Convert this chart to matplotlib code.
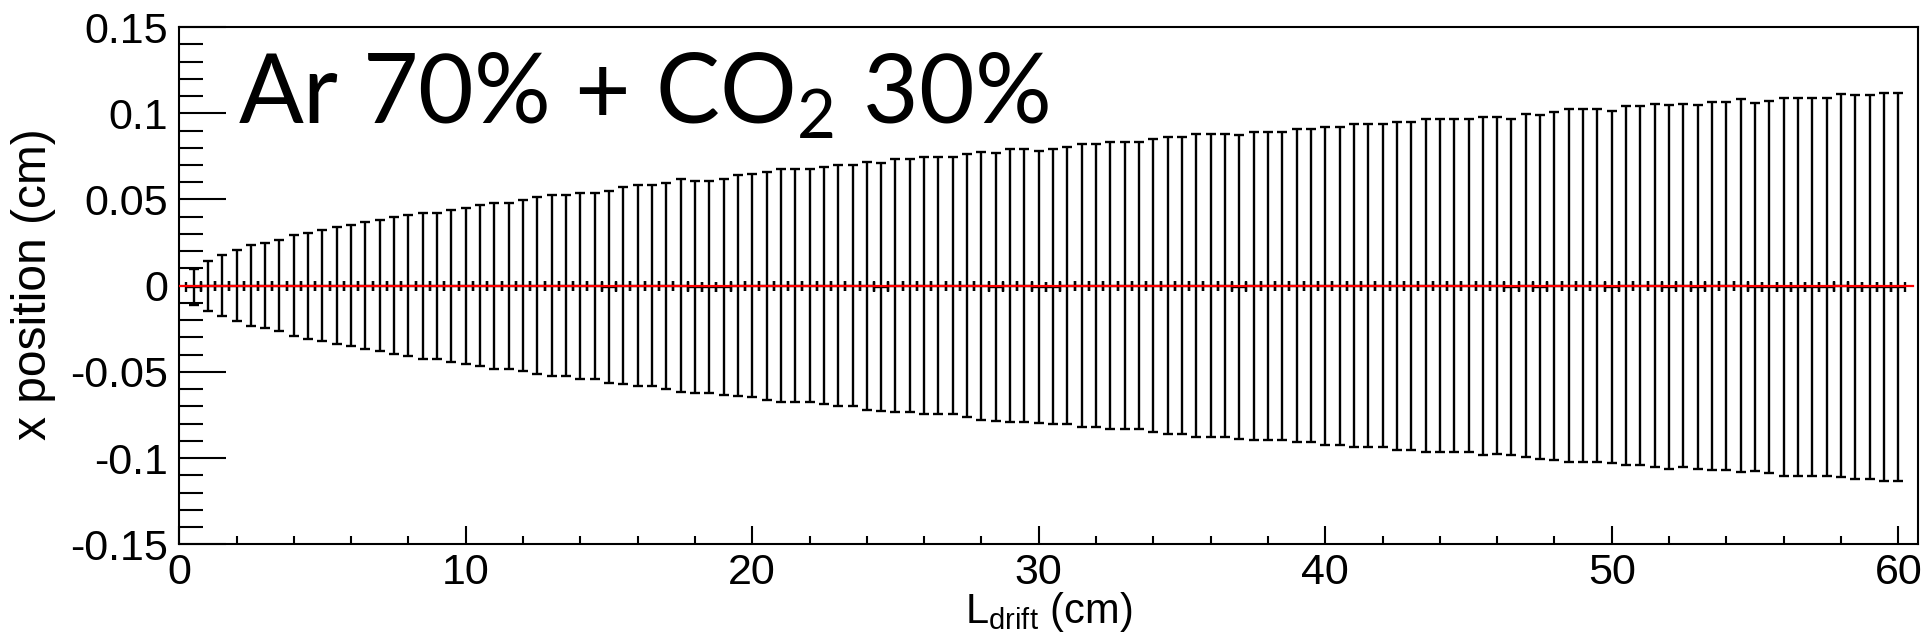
import matplotlib
matplotlib.use("Agg")
import matplotlib.pyplot as plt
from matplotlib.ticker import MultipleLocator, FuncFormatter

plt.rcParams['font.family'] = ['Liberation Sans', 'DejaVu Sans']
plt.rcParams['axes.unicode_minus'] = False

# drift distance (cm), one point per 0.5 cm bin
l_drift = [
    0.5, 1.0, 1.5, 2.0, 2.5, 3.0, 3.5, 4.0, 4.5, 5.0,
    5.5, 6.0, 6.5, 7.0, 7.5, 8.0, 8.5, 9.0, 9.5, 10.0,
    10.5, 11.0, 11.5, 12.0, 12.5, 13.0, 13.5, 14.0, 14.5, 15.0,
    15.5, 16.0, 16.5, 17.0, 17.5, 18.0, 18.5, 19.0, 19.5, 20.0,
    20.5, 21.0, 21.5, 22.0, 22.5, 23.0, 23.5, 24.0, 24.5, 25.0,
    25.5, 26.0, 26.5, 27.0, 27.5, 28.0, 28.5, 29.0, 29.5, 30.0,
    30.5, 31.0, 31.5, 32.0, 32.5, 33.0, 33.5, 34.0, 34.5, 35.0,
    35.5, 36.0, 36.5, 37.0, 37.5, 38.0, 38.5, 39.0, 39.5, 40.0,
    40.5, 41.0, 41.5, 42.0, 42.5, 43.0, 43.5, 44.0, 44.5, 45.0,
    45.5, 46.0, 46.5, 47.0, 47.5, 48.0, 48.5, 49.0, 49.5, 50.0,
    50.5, 51.0, 51.5, 52.0, 52.5, 53.0, 53.5, 54.0, 54.5, 55.0,
    55.5, 56.0, 56.5, 57.0, 57.5, 58.0, 58.5, 59.0, 59.5, 60.0,
]
bin_half = 0.25

# mean x position (cm)
x_mean = [
    -0.0007, 0, 0, 0, 0, 0, 0, 0, 0, 0,
    0, 0, 0, 0, 0, 0, 0, 0, 0, 0,
    0, 0, 0, 0, 0, 0, 0, 0, 0, -0.0007,
    0, 0, 0, 0, 0, -0.0007, -0.0007, -0.0007, 0, 0,
    0, 0, 0, 0, 0, 0, 0, 0, -0.0007, 0,
    0, 0, 0, 0, 0, 0, -0.0007, 0, 0, -0.0007,
    -0.0007, 0, 0, 0, 0, 0, 0, 0, 0, 0,
    0, 0, 0, -0.0007, 0, 0, 0, 0, 0, 0,
    0, 0, 0, 0, 0, 0, 0, 0, 0, 0,
    0, 0, -0.0007, 0, -0.0007, 0, 0, 0, 0, -0.0007,
    0, 0, 0, -0.0007, 0, -0.0007, 0, 0, 0, -0.0007,
    -0.0007, -0.0007, -0.0007, -0.0007, -0.0007, 0, -0.0007, -0.0007, -0.0007, -0.0007,
]

# spread (cm)
x_sigma = [
    0.0105, 0.0145, 0.0178, 0.0205, 0.0236, 0.0247, 0.0263, 0.0292, 0.0307, 0.0323,
    0.0338, 0.0352, 0.0367, 0.0381, 0.0396, 0.0410, 0.0423, 0.0423, 0.0441, 0.0452,
    0.0466, 0.0481, 0.0481, 0.0497, 0.0512, 0.0526, 0.0526, 0.0539, 0.0539, 0.0557,
    0.0570, 0.0584, 0.0584, 0.0597, 0.0617, 0.0617, 0.0617, 0.0628, 0.0642, 0.0646,
    0.0661, 0.0675, 0.0675, 0.0675, 0.0688, 0.0700, 0.0700, 0.0719, 0.0719, 0.0733,
    0.0733, 0.0744, 0.0744, 0.0744, 0.0762, 0.0777, 0.0777, 0.0791, 0.0791, 0.0791,
    0.0797, 0.0802, 0.0820, 0.0820, 0.0833, 0.0833, 0.0833, 0.0849, 0.0862, 0.0862,
    0.0880, 0.0880, 0.0880, 0.0880, 0.0893, 0.0893, 0.0893, 0.0907, 0.0907, 0.0922,
    0.0922, 0.0938, 0.0938, 0.0938, 0.0951, 0.0951, 0.0965, 0.0965, 0.0965, 0.0965,
    0.0980, 0.0977, 0.0974, 0.0996, 0.0996, 0.1009, 0.1023, 0.1023, 0.1023, 0.1023,
    0.1042, 0.1042, 0.1054, 0.1054, 0.1054, 0.1054, 0.1067, 0.1067, 0.1081, 0.1067,
    0.1081, 0.1098, 0.1098, 0.1098, 0.1098, 0.1112, 0.1112, 0.1112, 0.1125, 0.1125,
]

# fitted line (red)
fit_x = [0.0, 60.5]
fit_y = [0.0, 0.0]

fig = plt.figure(figsize=(19.27, 6.43), dpi=100)
ax = fig.add_axes([0.0930, 0.1535, 0.9025, 0.8044])

ax.errorbar(l_drift, x_mean, yerr=x_sigma, xerr=bin_half, fmt='none',
            ecolor='black', elinewidth=1.7, capsize=3.7, capthick=1.7, zorder=3)
ax.plot(fit_x, fit_y, color='red', lw=1.6, zorder=5)

ax.set_xlim(0, 60.7)
ax.set_ylim(-0.15, 0.15)

ax.xaxis.set_major_locator(MultipleLocator(10))
ax.xaxis.set_minor_locator(MultipleLocator(2))
ax.yaxis.set_major_locator(MultipleLocator(0.05))
ax.yaxis.set_minor_locator(MultipleLocator(0.01))


def root_fmt(v, pos):
    s = f"{v:.2f}".rstrip('0').rstrip('.')
    if s in ('-0', ''):
        s = '0'
    return s


ax.yaxis.set_major_formatter(FuncFormatter(root_fmt))
ax.xaxis.set_major_formatter(FuncFormatter(lambda v, p: f"{v:.0f}"))

ax.tick_params(axis='both', which='both', direction='in', top=False, right=False,
               width=1.5, colors='black')
ax.tick_params(axis='y', which='major', length=34, labelsize=31, pad=8)
ax.tick_params(axis='y', which='minor', length=17)
ax.tick_params(axis='x', which='major', length=13, labelsize=31, pad=6)
ax.tick_params(axis='x', which='minor', length=6)
for sp in ax.spines.values():
    sp.set_linewidth(1.5)

ax.set_ylabel('x position (cm)', fontsize=34.5)
ax.yaxis.label.set_va('center')
ax.yaxis.set_label_coords(-0.0835, 0.503)

ax.set_xlabel('L$_{\\mathregular{drift}}$ (cm)', fontsize=30)
ax.xaxis.label.set_va('baseline')
ax.xaxis.set_label_coords(0.5, -0.152)

ax.text(0.034, 0.8146, 'Ar 70% + CO$_{\\mathregular{2}}$ 30%', transform=ax.transAxes,
        fontsize=69, family=['Lato', 'DejaVu Sans'], va='baseline', ha='left')

fig.savefig('out.png', dpi=100)
